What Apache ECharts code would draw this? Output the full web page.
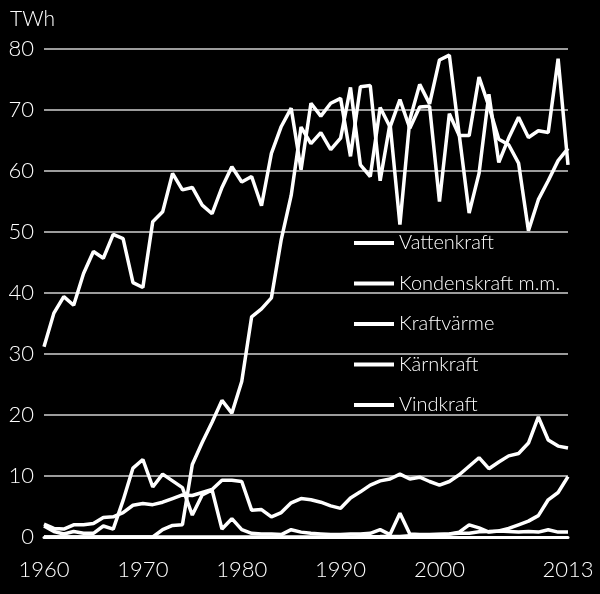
<!DOCTYPE html>
<html>
<head>
<meta charset="utf-8">
<script src="https://cdn.jsdelivr.net/npm/echarts@6/dist/echarts.min.js"></script>
<style>
html,body{margin:0;padding:0;background:#000;}
#chart{width:600px;height:594px;}
</style>
</head>
<body>
<div id="chart"></div>
<script>
// Years 1960..2013
const years = [];
for (let y = 1960; y <= 2013; y++) years.push(String(y));
const xTickLabels = ['1960', '1970', '1980', '1990', '2000', '2013'];
const yTicks = [0, 10, 20, 30, 40, 50, 60, 70, 80];
const seriesNames = ['Vattenkraft', 'Kondenskraft m.m.', 'Kraftvärme', 'Kärnkraft', 'Vindkraft'];

const vattenkraft = [
  31.2, 36.7, 39.4, 38.0, 43.2, 46.8, 45.7, 49.6, 48.9, 41.7,
  40.9, 51.7, 53.3, 59.6, 56.9, 57.3, 54.4, 53.0, 57.3, 60.7,
  58.2, 59.1, 54.3, 62.9, 67.3, 70.3, 60.2, 71.1, 69.0, 71.1,
  71.9, 62.4, 73.8, 74.0, 58.4, 67.8, 51.2, 68.4, 74.2, 71.0,
  78.2, 79.0, 65.9, 53.1, 59.6, 72.6, 61.4, 65.4, 68.8, 65.5,
  66.6, 66.3, 78.4, 61.0
];
const kondenskraft = [
  1.8, 0.9, 0.5, 0.9, 0.6, 0.6, 1.8, 1.3, 6.0, 11.3,
  12.7, 8.2, 10.3, 9.2, 8.1, 3.6, 6.9, 7.7, 1.3, 3.0,
  1.2, 0.6, 0.5, 0.5, 0.4, 1.2, 0.8, 0.6, 0.5, 0.4,
  0.4, 0.5, 0.5, 0.6, 1.2, 0.4, 3.9, 0.5, 0.4, 0.4,
  0.4, 0.5, 0.8, 2.0, 1.5, 0.8, 1.0, 0.9, 0.8, 0.9,
  0.8, 1.2, 0.8, 0.8
];
const kraftvarme = [
  2.1, 1.4, 1.3, 2.0, 2.0, 2.2, 3.2, 3.3, 4.0, 5.2,
  5.5, 5.3, 5.7, 6.3, 6.9, 6.8, 7.3, 7.8, 9.3, 9.3,
  9.1, 4.4, 4.5, 3.3, 4.0, 5.6, 6.3, 6.1, 5.7, 5.1,
  4.7, 6.4, 7.4, 8.5, 9.2, 9.5, 10.3, 9.5, 9.8, 9.1,
  8.5, 9.1, 10.2, 11.6, 13.0, 11.2, 12.3, 13.3, 13.7, 15.4,
  19.7, 15.9, 14.9, 14.6
];
const karnkraft = [
  0, 0, 0, 0, 0, 0, 0, 0, 0, 0,
  0, 0, 1.2, 1.9, 2.0, 11.9, 15.5, 18.8, 22.4, 20.3,
  25.5, 36.1, 37.4, 39.2, 48.8, 56.0, 67.2, 64.5, 66.3, 63.5,
  65.4, 73.7, 61.0, 59.1, 70.4, 67.2, 71.7, 67.0, 70.5, 70.6,
  55.0, 69.4, 65.8, 65.8, 75.4, 70.6, 65.2, 64.3, 61.3, 50.2,
  55.3, 58.4, 61.7, 63.7
];
const vindkraft = [
  0, 0, 0, 0, 0, 0, 0, 0, 0, 0,
  0, 0, 0, 0, 0, 0, 0, 0, 0, 0,
  0, 0, 0, 0, 0, 0, 0, 0, 0, 0,
  0, 0, 0.05, 0.05, 0.07, 0.1, 0.1, 0.2, 0.3, 0.35,
  0.45, 0.5, 0.6, 0.6, 0.85, 0.9, 1.0, 1.4, 2.0, 2.6,
  3.5, 6.1, 7.3, 9.9
];

const FONT = 'Lato';
const dataSets = [vattenkraft, kondenskraft, kraftvarme, karnkraft, vindkraft];

const chart = echarts.init(document.getElementById('chart'), null, {renderer: 'canvas'});
chart.setOption({
  backgroundColor: '#000',
  animation: false,
  title: {
    text: 'TWh', left: 5, top: 4,
    textStyle: {color: '#fff', fontFamily: FONT, fontWeight: 300, fontSize: 21}
  },
  legend: {
    orient: 'vertical', left: 354, top: 233, padding: 0,
    itemWidth: 40, itemHeight: 4, itemGap: 20.5, icon: 'rect',
    textStyle: {color: '#fff', fontFamily: FONT, fontWeight: 300, fontSize: 20, lineHeight: 20},
    data: seriesNames
  },
  grid: {left: 44, right: 32, top: 49, bottom: 57, containLabel: false},
  xAxis: {
    type: 'category', data: years, boundaryGap: false,
    axisLine: {show: true, lineStyle: {color: '#fff', width: 3}},
    axisTick: {show: false},
    splitLine: {show: false},
    axisLabel: {
      color: '#fff', fontFamily: FONT, fontWeight: 300, fontSize: 22, margin: 22,
      interval: (i, v) => xTickLabels.indexOf(v) >= 0,
      formatter: v => (xTickLabels.indexOf(v) >= 0 ? v : '')
    }
  },
  yAxis: {
    type: 'value', min: 0, max: 80, interval: 10,
    axisLine: {show: false}, axisTick: {show: false},
    splitLine: {lineStyle: {color: '#d0d0d0', width: 1.5}},
    axisLabel: {
      color: '#fff', fontFamily: FONT, fontWeight: 300, fontSize: 22, margin: 10,
      formatter: v => (yTicks.indexOf(v) >= 0 ? String(v) : '')
    }
  },
  series: seriesNames.map((n, i) => ({
    name: n, type: 'line', data: dataSets[i],
    showSymbol: false, symbol: 'none',
    lineStyle: {color: '#fff', width: 3.5},
    itemStyle: {color: '#fff'}
  }))
});
</script>
</body>
</html>
